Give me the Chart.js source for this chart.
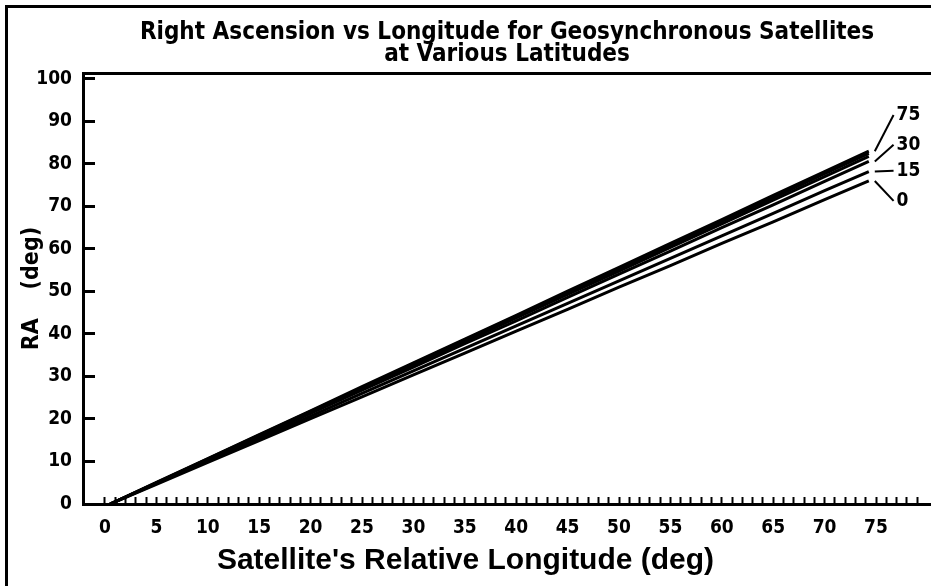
<!DOCTYPE html>
<html>
<head>
<meta charset="utf-8">
<script src="https://cdn.jsdelivr.net/npm/chart.js@4.4.0/dist/chart.umd.min.js"></script>
<style>
  html, body { margin: 0; padding: 0; background: #fff; overflow: hidden; }
  canvas { display: block; }
</style>
</head>
<body>
<canvas id="ra" width="931" height="586"></canvas>
<script>
// satellite relative longitude (deg)
var longitudes = [0.5, 5, 10, 15, 20, 25, 30, 35, 40, 45, 50, 55, 60, 65, 70, 74.3];

// right ascension (deg) for each observer latitude
var ra0  = [0, 4.6, 9.8, 14.9, 20.1, 25.2, 30.4, 35.5, 40.7, 45.8, 51.0, 56.1, 61.3, 66.4, 71.6, 76.0];
var ra15 = [0, 4.8, 10.1, 15.4, 20.7, 26.0, 31.3, 36.6, 41.9, 47.2, 52.5, 57.8, 63.1, 68.4, 73.7, 78.2];
var ra30 = [0, 4.9, 10.4, 15.8, 21.3, 26.8, 32.2, 37.7, 43.1, 48.6, 54.1, 59.5, 65.0, 70.4, 75.9, 80.6];
var ra45 = [0, 5.0, 10.5, 16.1, 21.6, 27.1, 32.7, 38.2, 43.8, 49.3, 54.8, 60.4, 65.9, 71.5, 77.0, 81.8];
var ra60 = [0, 5.0, 10.6, 16.2, 21.8, 27.4, 33.0, 38.6, 44.2, 49.8, 55.3, 60.9, 66.5, 72.1, 77.7, 82.5];
var ra75 = [0, 5.1, 10.7, 16.3, 21.9, 27.6, 33.2, 38.8, 44.4, 50.1, 55.7, 61.3, 66.9, 72.6, 78.2, 83.0];

// labels written at the right end of the curves
var calloutText = ['75', '30', '15', '0'];
var calloutSeries = [ra75, ra30, ra15, ra0];
var calloutRA = [91.5, 84.5, 78.4, 71.3];
var calloutLon = 77;

var yMax = 101.4;
var narrow = "'DejaVu Sans Condensed', 'Liberation Sans Narrow', sans-serif";

function pts(ys) {
    return longitudes.map(function (x, i) { return { x: x, y: ys[i] }; });
}

function line(label, ys) {
    return {
        label: label,
        data: pts(ys),
        borderColor: '#000',
        borderWidth: 3,
        pointRadius: 0,
        fill: false
    };
}

// outer frame of the figure (left and top edges only are in view)
var frame = {
    id: 'frame',
    beforeDraw: function (chart) {
        var ctx = chart.ctx;
        ctx.save();
        ctx.fillStyle = '#000';
        ctx.fillRect(5, 5, 3, chart.height);
        ctx.fillRect(5, 5, chart.width, 3);
        ctx.restore();
    }
};

var callouts = {
    id: 'callouts',
    afterDatasetsDraw: function (chart) {
        var ctx = chart.ctx, xs = chart.scales.x, ys = chart.scales.y;
        var last = longitudes.length - 1;
        ctx.save();
        ctx.font = 'bold 19px ' + narrow;
        ctx.fillStyle = '#000';
        ctx.strokeStyle = '#000';
        ctx.lineWidth = 2;
        ctx.textAlign = 'left';
        ctx.textBaseline = 'middle';
        for (var i = 0; i < calloutText.length; i++) {
            var sx = xs.getPixelForValue(longitudes[last]) + 6;
            var sy = ys.getPixelForValue(calloutSeries[i][last]);
            var lx = xs.getPixelForValue(calloutLon);
            var ly = ys.getPixelForValue(calloutRA[i]);
            ctx.beginPath();
            ctx.moveTo(sx, sy);
            ctx.lineTo(lx - 3, ly);
            ctx.stroke();
            ctx.fillText(calloutText[i], lx, ly);
        }
        ctx.restore();
    }
};

var ctx = document.getElementById('ra');
var chart = new Chart(ctx, {
    type: 'line',
    data: {
        datasets: [
            line('0', ra0),
            line('15', ra15),
            line('30', ra30),
            line('45', ra45),
            line('60', ra60),
            line('75', ra75)
        ]
    },
    options: {
        responsive: false,
        animation: false,
        layout: { padding: 0, autoPadding: false },
        plugins: {
            legend: { display: false },
            tooltip: { enabled: false },
            title: {
                display: true,
                fullSize: false,
                text: ['Right Ascension vs Longitude for Geosynchronous Satellites', 'at Various Latitudes'],
                color: '#000',
                font: { family: narrow, size: 24, weight: 'bold', lineHeight: '22px' },
                padding: { top: 22, bottom: 7 }
            },
            subtitle: {
                display: true,
                position: 'bottom',
                text: "Satellite's Relative Longitude (deg)",
                color: '#000',
                font: { family: "'Liberation Sans', Arial, sans-serif", size: 30, weight: 'bold', lineHeight: 1.2 },
                padding: { top: 3, bottom: 7 }
            }
        },
        scales: {
            x: {
                type: 'linear',
                min: -2.14,
                max: 80.35,
                border: { color: '#000', width: 3 },
                grid: {
                    drawOnChartArea: false,
                    tickLength: -7,
                    tickWidth: 2,
                    tickColor: function (c) {
                        var v = c.tick.value;
                        return (v >= 0 && v <= 79) ? '#000' : 'rgba(0,0,0,0)';
                    }
                },
                ticks: {
                    stepSize: 1,
                    autoSkip: false,
                    includeBounds: false,
                    maxRotation: 0,
                    padding: 20,
                    color: '#000',
                    font: { family: narrow, size: 19, weight: 'bold' },
                    callback: function (v) {
                        return (v >= 0 && v <= 75 && v % 5 === 0) ? v : '';
                    }
                },
                afterFit: function (s) { s.height = 36; s.paddingLeft = 0; s.paddingRight = 0; }
            },
            // top edge of the plot box
            xTop: {
                type: 'linear',
                position: 'top',
                min: -2.14,
                max: 80.35,
                border: { color: '#000', width: 3 },
                grid: { display: true, drawOnChartArea: false, drawTicks: false },
                ticks: { display: false },
                afterFit: function (s) { s.height = 0; s.paddingLeft = 0; s.paddingRight = 0; }
            },
            y: {
                min: 0,
                max: yMax,
                border: { color: '#000', width: 3 },
                grid: {
                    drawOnChartArea: false,
                    tickLength: -12,
                    tickWidth: 3,
                    tickColor: '#000'
                },
                ticks: {
                    stepSize: 10,
                    autoSkip: false,
                    includeBounds: false,
                    padding: 23,
                    color: '#000',
                    font: { family: narrow, size: 19, weight: 'bold' }
                },
                title: {
                    display: true,
                    text: 'RA    (deg)',
                    color: '#000',
                    font: { family: narrow, size: 23, weight: 'bold', lineHeight: 1.2 },
                    padding: { top: 18, bottom: 0 }
                },
                afterFit: function (s) { s.width = 83; s.paddingTop = 0; s.paddingBottom = 0; }
            }
        }
    },
    plugins: [frame, callouts]
});
</script>
</body>
</html>
